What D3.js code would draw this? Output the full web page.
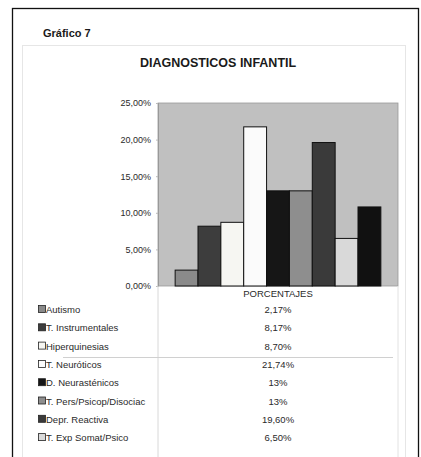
<!DOCTYPE html>
<html>
<head>
<meta charset="utf-8">
<script src="https://cdn.jsdelivr.net/npm/d3@7"></script>
<style>
  body { margin: 0; background: #fff; }
  text { font-family: "Liberation Sans", Arial, sans-serif; fill: #2a2a2a; }
  .title { font-weight: bold; font-size: 12px; fill: #1a1a1a; }
  .tick text { font-size: 9px; fill: #2a2a2a; }
  .cell { font-size: 9.5px; }
</style>
</head>
<body>
<div id="chart-area"></div>
<script>
// chart data
var categories = ["Autismo", "T. Instrumentales", "Hiperquinesias", "T. Neuróticos",
  "D. Neurasténicos", "T. Pers/Psicop/Disociac", "Depr. Reactiva", "T. Exp Somat/Psico", "Otros"];
var values = [0.0217, 0.0817, 0.087, 0.2174, 0.13, 0.13, 0.196, 0.065, 0.108];
var valueLabels = ["2,17%", "8,17%", "8,70%", "21,74%", "13%", "13%", "19,60%", "6,50%", "10,80%"];
var yTicks = [0, 0.05, 0.10, 0.15, 0.20, 0.25];
var colours = ["#8a8a8a", "#3d3d3d", "#f6f6f2", "#fbfbfb", "#161616", "#8e8e8e", "#3a3a3a", "#d9d9d9", "#111111"];

var width = 421, height = 457;

var svg = d3.select("#chart-area").append("svg")
  .attr("width", width)
  .attr("height", height);

// plot box
const plot = { left: 158, right: 398, top: 103, bottom: 286 };

// outer page frame
svg.append("rect")
  .attr("x", 12.5).attr("y", 8.5)
  .attr("width", 406).attr("height", 460)
  .attr("fill", "none").attr("stroke", "#111").attr("stroke-width", 1.3);

// faint chart-area border
svg.append("rect")
  .attr("x", 22.5).attr("y", 45.5)
  .attr("width", 383).attr("height", 430)
  .attr("fill", "none").attr("stroke", "#e6e6e6").attr("stroke-width", 1);

svg.append("text")
  .attr("class", "title")
  .attr("x", 43).attr("y", 37)
  .style("font-size", "11px")
  .text("Gráfico 7");

svg.append("text")
  .attr("class", "title")
  .attr("x", 218).attr("y", 67)
  .style("text-anchor", "middle")
  .style("font-size", "12.5px")
  .text("DIAGNOSTICOS INFANTIL");

let y = d3.scaleLinear()
  .domain([0, 0.25])
  .range([plot.bottom, plot.top]);

let x = d3.scaleBand()
  .domain(categories)
  .range([plot.left, plot.right])
  .paddingInner(0)
  .paddingOuter(0.75);

const es = d3.formatLocale({ decimal: ",", thousands: ".", grouping: [3], currency: ["", "€"] });

svg.append("rect")
  .attr("x", plot.left).attr("y", plot.top)
  .attr("width", plot.right - plot.left).attr("height", plot.bottom - plot.top)
  .attr("fill", "#c0c0c0").attr("stroke", "#9a9a9a").attr("stroke-width", 0.8);

let yAxis = d3.axisLeft(y)
  .tickValues(yTicks)
  .tickSize(2)
  .tickFormat(d => es.format(".2%")(d));

svg.append("g")
  .attr("transform", `translate(${plot.left}, 0)`)
  .call(yAxis)
  .call(g => g.select(".domain").attr("stroke", "#999"))
  .call(g => g.selectAll(".tick line").attr("stroke", "#bbb"))
  .call(g => g.selectAll(".tick text").attr("x", -7));

// bars
svg.selectAll("rect.bar")
  .data(categories)
  .enter()
  .append("rect")
  .attr("class", "bar")
  .attr("x", d => x(d))
  .attr("width", x.bandwidth())
  .attr("y", (d, i) => y(values[i]))
  .attr("height", (d, i) => y(0) - y(values[i]))
  .attr("fill", (d, i) => colours[i])
  .attr("stroke", "#111")
  .attr("stroke-width", 1);

// data table below the plot
const rowH = 18.3;
const tableTop = 286;

svg.append("line")
  .attr("x1", plot.left).attr("x2", plot.left)
  .attr("y1", tableTop).attr("y2", height)
  .attr("stroke", "#d8d8d8");
svg.append("line")
  .attr("x1", plot.right).attr("x2", plot.right)
  .attr("y1", tableTop).attr("y2", height)
  .attr("stroke", "#e2e2e2");
svg.append("line")
  .attr("x1", 63).attr("x2", 393)
  .attr("y1", 357.5).attr("y2", 357.5)
  .attr("stroke", "#d0d0d0");

svg.append("text")
  .attr("class", "cell")
  .attr("x", (plot.left + plot.right) / 2)
  .attr("y", tableTop + 11)
  .style("font-size", "9.5px")
  .style("text-anchor", "middle")
  .text("PORCENTAJES");

// only the rows that fit inside the page are visible
let visible = categories.filter((d, i) => tableTop + 27 + i * rowH < height - 4);

let rows = svg.selectAll("g.row")
  .data(visible)
  .enter()
  .append("g")
  .attr("class", "row")
  .attr("transform", (d, i) => `translate(0, ${tableTop + 27 + i * rowH})`);

rows.append("rect")
  .attr("x", 38.5).attr("y", -7.5)
  .attr("width", 7).attr("height", 7)
  .attr("fill", (d, i) => colours[i])
  .attr("stroke", "#222").attr("stroke-width", 0.8);

rows.append("text")
  .attr("class", "cell")
  .attr("x", 46).attr("y", 0)
  .text(d => d);

rows.append("text")
  .attr("class", "cell")
  .attr("x", (plot.left + plot.right) / 2)
  .attr("y", 0)
  .style("text-anchor", "middle")
  .text((d, i) => valueLabels[i]);
</script>
</body>
</html>
